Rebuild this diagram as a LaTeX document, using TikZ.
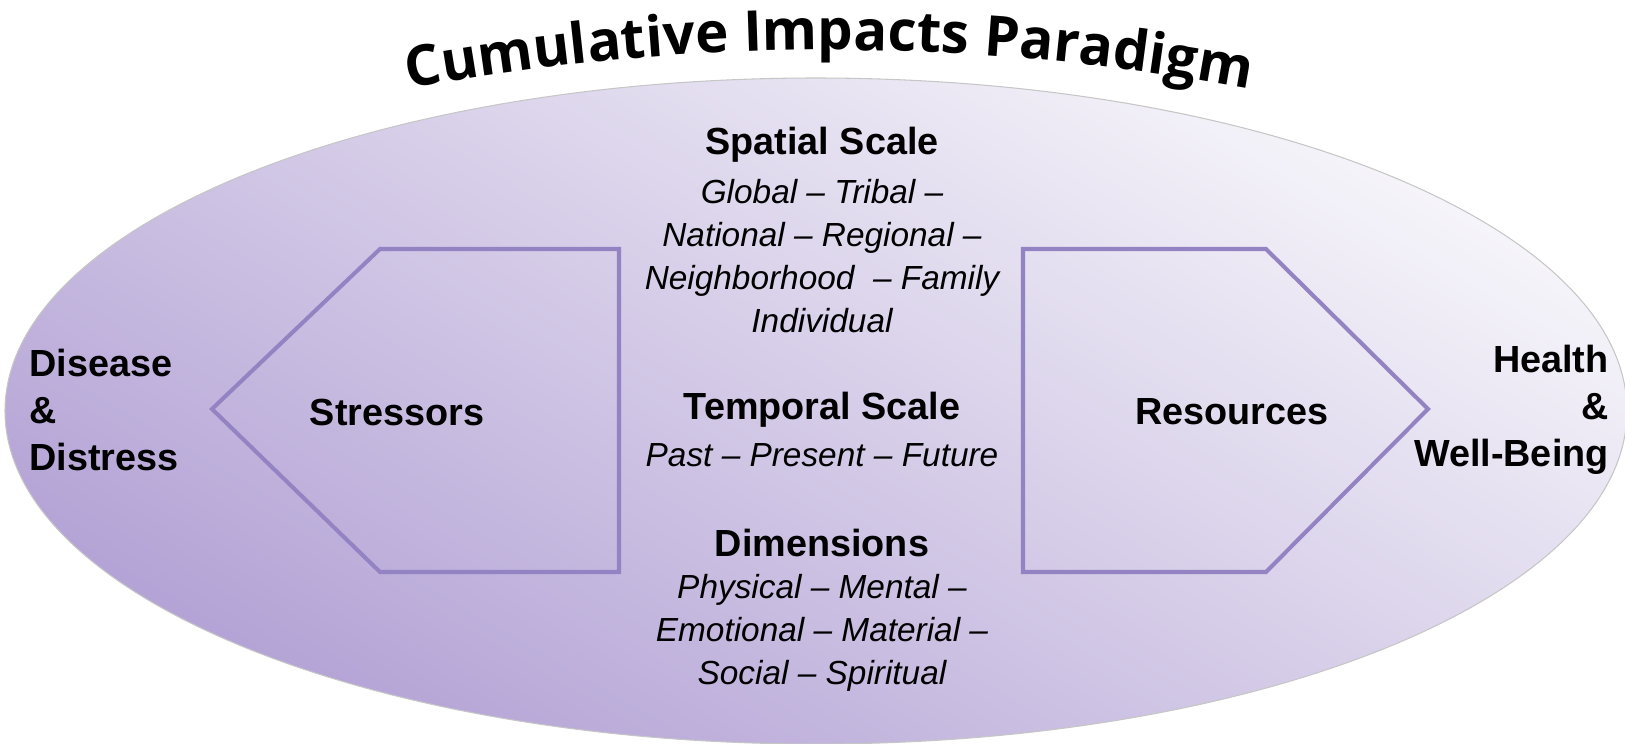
\documentclass[tikz,border=0pt]{standalone}
\usepackage{fontspec}
\setmainfont{Liberation Sans}
\newfontfamily\titlefont{Open Sans}
\usetikzlibrary{decorations.text}
\definecolor{lavLine}{HTML}{9383C2}
\definecolor{ellTop}{HTML}{F6F5FA}
\definecolor{ellMid}{HTML}{E0DAED}
\definecolor{ellBottom}{HTML}{B3A2D5}

\begin{document}
\begin{tikzpicture}[x=0.2mm, y=0.2mm,
    arrowbox/.style={draw=lavLine, line width=2.3pt, line join=miter},
    headlabel/.style={font=\fontsize{21.5}{26}\selectfont\bfseries, inner sep=0pt},
    itemlist/.style={font=\fontsize{19}{24.5}\selectfont\itshape, align=center, inner sep=0pt},
    sidelabel/.style={font=\fontsize{21.5}{26.7}\selectfont\bfseries, inner sep=0pt}]
      \useasboundingbox (0,0) rectangle (1625,-744);

      \draw[draw=gray!45, line width=0.6pt, top color=ellTop, middle color=ellMid, bottom color=ellBottom, shading angle=-30]
        (816,-411) ellipse [x radius=811, y radius=333];

      \path[decorate, decoration={text along path, text align=center,
          text={|\titlefont\bfseries\fontsize{32}{32}\selectfont|Cumulative Impacts Paradigm}}]
        (829,-2335) ++(101:2285) arc [start angle=101, end angle=79, radius=2285];

      \draw[arrowbox] (212,-409) -- (380,-249) -- (619,-249) -- (619,-572) -- (380,-572) -- cycle;
      \draw[arrowbox] (1023,-249) -- (1266,-249) -- (1428,-409) -- (1266,-572) -- (1023,-572) -- cycle;

      \node[headlabel] (stressors) at (397,-412) {Stressors};
      \node[headlabel] (resources) at (1232,-412) {Resources};

      \node[sidelabel, align=left, anchor=west] (disease) at (29,-410) {Disease\\\&\\Distress};
      \node[sidelabel, align=right, anchor=east] (health) at (1609,-410) {Health\\\&\\Well-Being};

      \node[headlabel] (spatial) at (822,-145) {Spatial Scale};
      \node[itemlist] (spatiallist) at (822,-256) {Global – Tribal –\\National – Regional –\\Neighborhood \ – Family\\Individual};

      \node[headlabel] (temporal) at (822,-410) {Temporal Scale};
      \node[itemlist] (temporallist) at (822,-455) {Past – Present – Future};

      \node[headlabel] (dimensions) at (822,-543) {Dimensions};
      \node[itemlist] (dimensionlist) at (822,-633) {Physical – Mental –\\Emotional – Material –\\Social – Spiritual};
\end{tikzpicture}
\end{document}
